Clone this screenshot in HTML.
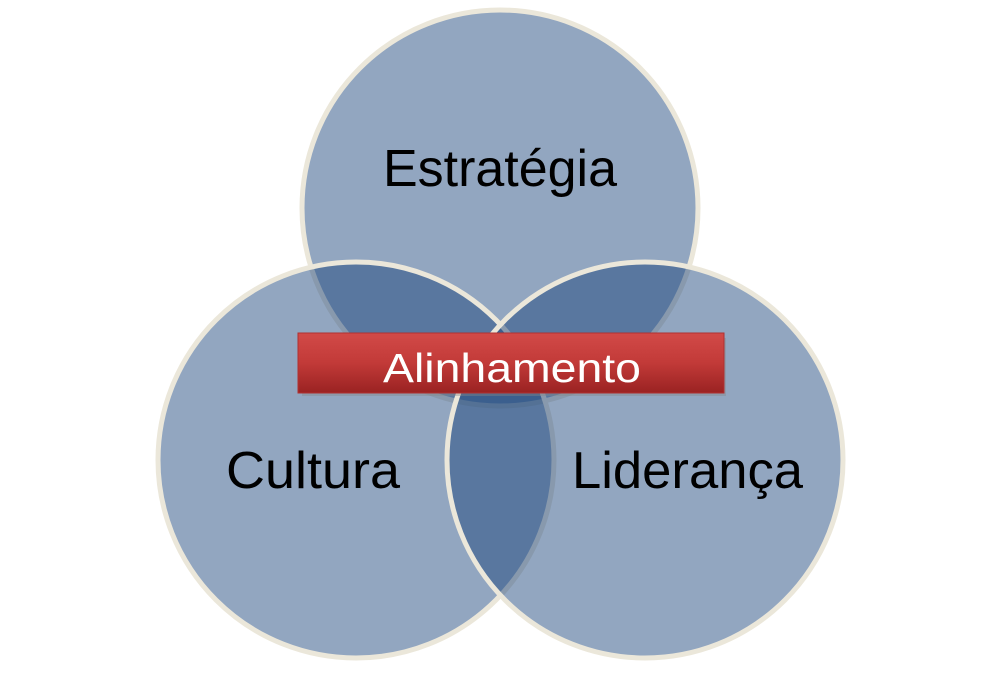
<!DOCTYPE html>
<html><head><meta charset="utf-8"><style>
html,body{margin:0;padding:0;background:#fff;}
</style></head><body>
<svg width="1002" height="669" viewBox="0 0 1002 669" xmlns="http://www.w3.org/2000/svg">
<defs>
<linearGradient id="rg" x1="0" y1="0" x2="0" y2="1">
<stop offset="0" stop-color="#d24a48"/>
<stop offset="0.5" stop-color="#c23a38"/>
<stop offset="1" stop-color="#9a2222"/>
</linearGradient>
</defs>
<g stroke="#ebe7da" stroke-width="5">
<circle cx="500" cy="208" r="198" fill="rgb(27,68,124)" fill-opacity="0.48"/>
<circle cx="356" cy="460" r="198" fill="rgb(27,68,124)" fill-opacity="0.48"/>
<circle cx="645" cy="460" r="198" fill="rgb(27,68,124)" fill-opacity="0.48"/>
</g>
<rect x="300" y="336" width="424" height="58" fill="#888" opacity="0.4" transform="translate(2,2)"/>
<rect x="298" y="333" width="426" height="60" fill="url(#rg)" stroke="#b03030" stroke-width="1"/>
<g font-family="Liberation Sans, sans-serif">
<text x="383" y="382" font-size="41" fill="#fff" textLength="258" lengthAdjust="spacingAndGlyphs">Alinhamento</text>
<text x="383" y="186" font-size="52" fill="#000" textLength="234" lengthAdjust="spacingAndGlyphs">Estratégia</text>
<text x="226" y="488" font-size="52" fill="#000" textLength="174" lengthAdjust="spacingAndGlyphs">Cultura</text>
<text x="572" y="488" font-size="52" fill="#000" textLength="231" lengthAdjust="spacingAndGlyphs">Liderança</text>
</g>
</svg>
</body></html>
